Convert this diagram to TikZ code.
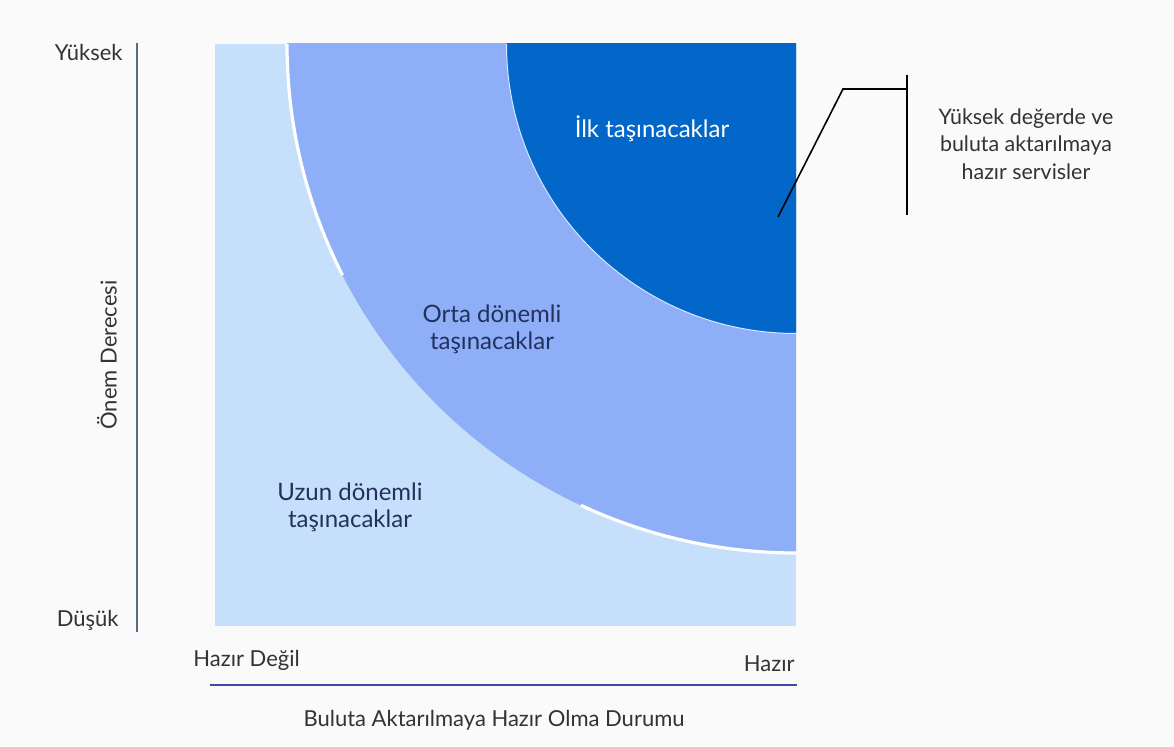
\documentclass[tikz,border=0pt]{standalone}
\usepackage{fontspec}
\setmainfont{Lato}
\definecolor{bgc}{HTML}{FAFAFA}
\definecolor{lightband}{HTML}{C6DFFA}
\definecolor{midband}{HTML}{8EAFF8}
\definecolor{darkband}{HTML}{0366C9}
\definecolor{axisc}{HTML}{5A6A80}
\definecolor{labelc}{HTML}{333333}
\definecolor{navytext}{HTML}{23315C}
\tikzset{
  axislabel/.style={font=\fontsize{11}{13}\selectfont, text=labelc, inner sep=0pt},
  zonelabel/.style={font=\fontsize{12}{13.5}\selectfont, align=center, inner sep=0pt},
  notelabel/.style={font=\fontsize{10.7}{13.8}\selectfont, align=center, inner sep=0pt, text=labelc},
  calloutline/.style={black, line width=0.8pt},
}
\begin{document}
\begin{tikzpicture}[x=0.5pt,y=0.5pt]
% canvas
\fill[bgc] (0,0) rectangle (1174,747);
\useasboundingbox (0,0) rectangle (1174,747);

% the readiness / importance square with its three zones
\coordinate (sqSW) at (215,121);
\coordinate (sqNE) at (796,703);
\coordinate (corner) at (796,703);
\begin{scope}
  \clip (sqSW) rectangle (sqNE);
  \fill[lightband] (sqSW) rectangle (sqNE);
  \fill[midband] (corner) circle[radius=254.5pt];
  \draw[white, line width=1.6pt] ([shift={(180:254.5pt)}]corner) arc[start angle=180, end angle=207, radius=254.5pt];
  \draw[white, line width=1.6pt] ([shift={(245:254.5pt)}]corner) arc[start angle=245, end angle=270, radius=254.5pt];
  \fill[darkband] (corner) circle[radius=144.75pt];
  \draw[lightband!70!white, line width=0.5pt] ([shift={(180:144.75pt)}]corner) arc[start angle=180, end angle=270, radius=144.75pt];
\end{scope}

% zone labels
\node[zonelabel, text=white, anchor=base] (first) at (652,609) {İlk taşınacaklar};
\node[zonelabel, text=navytext] (mid) at (492,418) {Orta dönemli\\taşınacaklar};
\node[zonelabel, text=navytext] (late) at (350,240) {Uzun dönemli\\taşınacaklar};

% vertical axis
\coordinate (vtop) at (137,704);
\coordinate (vbot) at (137,115);
\draw[axisc, line width=0.9pt] (vtop) -- (vbot);
\node[axislabel, anchor=base east] (high) at (123,686) {Yüksek};
\node[axislabel, anchor=base east] (low) at (119,120) {Düşük};
\node[axislabel, rotate=90] (vtitle) at (107,392) {Önem Derecesi};

% horizontal axis
\coordinate (hleft) at (210,62);
\coordinate (hright) at (797,62);
\draw[axisc!70!blue, line width=0.9pt] (hleft) -- (hright);
\node[axislabel, anchor=base west] (notready) at (193,80) {Hazır Değil};
\node[axislabel, anchor=base east] (ready) at (795,75) {Hazır};
\node[axislabel] (htitle) at (494,27) {Buluta Aktarılmaya Hazır Olma Durumu};

% callout
\coordinate (ctip) at (778,530);
\coordinate (celbow) at (843,658);
\coordinate (cbartop) at (907,672);
\coordinate (cbarbot) at (907,532);
\coordinate (cbarmid) at (907,658);
\draw[calloutline] (ctip) -- (celbow) -- (cbarmid);
\draw[calloutline] (cbartop) -- (cbarbot);
\node[notelabel] (note) at (1026,603) {Yüksek değerde ve\\buluta aktarılmaya\\hazır servisler};
\end{tikzpicture}
\end{document}
